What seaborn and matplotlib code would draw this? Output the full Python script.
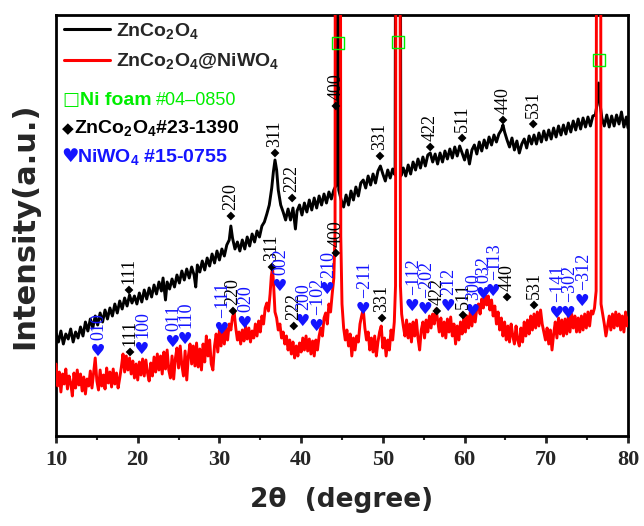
import numpy as np
import pandas as pd
import matplotlib
matplotlib.use("Agg")
import matplotlib.pyplot as plt
import seaborn as sns
from matplotlib.textpath import TextPath
from matplotlib.font_manager import FontProperties
from matplotlib.path import Path
from matplotlib.ticker import MultipleLocator

# ---------------- data (arbitrary intensity units) -------------
# ZnCo2O4 pattern: (2theta, intensity)
zco_points = [
    (10.0, 103), (10.3, 94), (10.6, 105), (10.9, 92), (11.2, 102), (11.5, 97), (11.8, 107),
    (12.1, 94), (12.4, 104), (12.7, 98), (13.0, 109), (13.3, 100), (13.6, 114), (13.9, 105),
    (14.2, 117), (14.5, 108), (14.8, 120), (15.1, 111), (15.4, 123), (15.7, 114), (16.0, 126),
    (16.3, 117), (16.6, 128), (16.9, 120), (17.2, 132), (17.5, 123), (17.8, 135), (18.1, 127),
    (18.4, 138), (18.7, 130), (19.0, 141), (19.3, 133), (19.6, 140), (19.9, 132), (20.2, 143),
    (20.5, 134), (20.8, 146), (21.1, 137), (21.4, 148), (21.7, 139), (22.0, 151), (22.3, 142),
    (22.6, 154), (22.9, 145), (23.1, 158), (23.4, 136), (23.6, 154), (23.9, 147), (24.2, 157),
    (24.5, 149), (24.8, 161), (25.1, 153), (25.4, 165), (25.7, 156), (26.0, 167), (26.3, 158),
    (26.6, 169), (26.9, 161), (27.1, 149), (27.3, 171), (27.6, 164), (27.9, 175), (28.2, 166),
    (28.5, 178), (28.8, 170), (29.1, 182), (29.4, 173), (29.7, 185), (30.0, 176), (30.3, 187),
    (30.6, 180), (30.9, 191), (31.2, 196), (31.4, 210), (31.6, 198), (31.9, 187), (32.2, 194),
    (32.5, 185), (32.8, 196), (33.1, 187), (33.4, 199), (33.7, 190), (34.0, 202), (34.3, 194),
    (34.6, 205), (34.9, 199), (35.2, 210), (35.5, 214), (35.8, 222), (36.1, 231), (36.4, 248),
    (36.6, 264), (36.8, 276), (37.0, 266), (37.2, 246), (37.5, 231), (37.8, 224), (38.1, 216),
    (38.4, 227), (38.7, 216), (39.0, 228), (39.3, 207), (39.5, 225), (39.8, 231), (40.1, 221),
    (40.4, 233), (40.7, 224), (41.0, 236), (41.3, 226), (41.6, 238), (41.9, 228), (42.2, 240),
    (42.5, 231), (42.8, 242), (43.1, 233), (43.4, 244), (43.7, 237), (44.0, 246), (44.3, 251),
    (44.38, 1500), (44.48, 1500), (44.6, 246), (44.9, 236), (45.2, 229), (45.5, 241),
    (45.8, 231), (46.1, 245), (46.4, 236), (46.7, 249), (47.0, 240), (47.3, 253), (47.6, 256),
    (47.9, 248), (48.2, 260), (48.5, 251), (48.8, 262), (49.1, 253), (49.4, 265), (49.7, 270),
    (50.0, 262), (50.3, 255), (50.6, 266), (50.9, 258), (51.2, 267), (51.5, 261),
    (51.75, 1500), (51.95, 1500), (52.2, 260), (52.5, 268), (52.8, 260), (53.1, 271),
    (53.4, 262), (53.7, 274), (54.0, 266), (54.3, 277), (54.6, 268), (54.9, 279), (55.2, 270),
    (55.5, 281), (55.8, 283), (56.1, 274), (56.4, 282), (56.7, 272), (57.0, 283), (57.3, 274),
    (57.6, 285), (57.9, 277), (58.2, 287), (58.5, 278), (58.8, 289), (59.1, 280), (59.4, 290),
    (59.7, 283), (60.0, 276), (60.3, 286), (60.6, 272), (60.9, 286), (61.2, 291), (61.5, 282),
    (61.8, 294), (62.1, 285), (62.4, 296), (62.7, 288), (63.0, 299), (63.3, 291), (63.6, 301),
    (63.9, 294), (64.2, 302), (64.5, 306), (64.7, 311), (64.9, 304), (65.2, 296), (65.5, 289),
    (65.8, 298), (66.1, 286), (66.4, 295), (66.7, 283), (67.0, 292), (67.3, 297), (67.6, 288),
    (67.9, 300), (68.2, 292), (68.5, 301), (68.8, 292), (69.1, 303), (69.4, 294), (69.7, 305),
    (70.0, 296), (70.3, 306), (70.6, 297), (70.9, 308), (71.2, 299), (71.5, 310), (71.8, 301),
    (72.1, 311), (72.4, 302), (72.7, 313), (73.0, 304), (73.3, 315), (73.6, 306), (73.9, 317),
    (74.2, 307), (74.5, 318), (74.8, 309), (75.1, 319), (75.4, 310), (75.7, 320), (76.0, 321),
    (76.2, 331), (76.4, 353), (76.6, 331), (76.8, 318), (77.1, 310), (77.4, 321), (77.7, 309),
    (78.0, 320), (78.3, 310), (78.6, 321), (78.9, 312), (79.2, 324), (79.5, 309), (79.8, 319),
    (80.0, 308),
]

# ZnCo2O4@NiWO4 pattern: (2theta, intensity)
zcn_points = [
    (10.0, 72), (10.2, 50), (10.4, 64), (10.6, 44), (10.8, 62), (11.0, 52), (11.2, 67),
    (11.4, 47), (11.6, 60), (11.8, 53), (12.0, 40), (12.2, 63), (12.4, 48), (12.6, 66),
    (12.8, 51), (13.0, 62), (13.2, 45), (13.4, 59), (13.6, 42), (13.8, 57), (14.0, 50),
    (14.2, 65), (14.4, 48), (14.6, 63), (14.8, 78), (15.0, 55), (15.2, 46), (15.4, 66),
    (15.6, 50), (15.8, 61), (16.0, 47), (16.2, 68), (16.4, 53), (16.6, 64), (16.8, 49),
    (17.0, 67), (17.2, 52), (17.4, 63), (17.6, 48), (17.8, 58), (18.0, 69), (18.2, 82),
    (18.4, 64), (18.6, 80), (18.8, 66), (19.0, 78), (19.2, 62), (19.4, 75), (19.6, 58),
    (19.8, 72), (20.0, 56), (20.2, 74), (20.4, 61), (20.6, 77), (20.8, 60), (21.0, 76),
    (21.2, 63), (21.4, 55), (21.6, 73), (21.8, 60), (22.0, 79), (22.2, 64), (22.4, 82),
    (22.6, 66), (22.8, 80), (23.0, 62), (23.2, 84), (23.4, 67), (23.6, 86), (23.8, 66),
    (24.0, 58), (24.2, 80), (24.4, 57), (24.6, 77), (24.8, 88), (25.0, 68), (25.2, 90),
    (25.4, 71), (25.6, 60), (25.8, 85), (26.0, 56), (26.2, 80), (26.4, 92), (26.6, 72),
    (26.8, 90), (27.0, 70), (27.2, 93), (27.4, 69), (27.6, 87), (27.8, 66), (28.0, 92),
    (28.2, 74), (28.4, 100), (28.6, 80), (28.8, 96), (29.0, 72), (29.2, 66), (29.4, 90),
    (29.6, 102), (29.8, 84), (30.0, 106), (30.2, 90), (30.4, 110), (30.6, 92), (30.8, 108),
    (31.0, 96), (31.2, 112), (31.4, 106), (31.6, 119), (31.8, 124), (32.0, 108), (32.2, 96),
    (32.4, 104), (32.6, 92), (32.8, 106), (33.0, 95), (33.2, 110), (33.4, 97), (33.6, 108),
    (33.8, 94), (34.0, 105), (34.2, 98), (34.4, 112), (34.6, 100), (34.8, 115), (35.0, 104),
    (35.2, 120), (35.4, 112), (35.6, 128), (35.8, 133), (36.0, 125), (36.2, 142),
    (36.35, 160), (36.5, 168), (36.65, 148), (36.8, 124), (37.0, 118), (37.2, 106),
    (37.4, 112), (37.6, 98), (37.8, 104), (38.0, 92), (38.2, 100), (38.4, 86), (38.6, 96),
    (38.8, 82), (39.0, 94), (39.2, 78), (39.4, 90), (39.6, 80), (39.8, 93), (40.0, 84),
    (40.2, 98), (40.4, 86), (40.6, 100), (40.8, 85), (41.0, 97), (41.2, 82), (41.4, 95),
    (41.6, 80), (41.8, 96), (42.0, 86), (42.2, 100), (42.4, 108), (42.6, 100), (42.8, 118),
    (43.0, 123), (43.2, 112), (43.4, 132), (43.6, 124), (43.8, 142), (44.0, 158),
    (44.15, 205), (44.25, 1500), (44.7, 1500), (44.85, 200), (45.0, 132), (45.2, 108),
    (45.4, 96), (45.6, 106), (45.8, 90), (46.0, 102), (46.2, 80), (46.4, 98), (46.6, 86),
    (46.8, 100), (47.0, 94), (47.2, 112), (47.4, 120), (47.6, 127), (47.8, 108), (48.0, 96),
    (48.2, 104), (48.4, 86), (48.6, 98), (48.8, 84), (49.0, 100), (49.2, 80), (49.4, 94),
    (49.6, 104), (49.8, 110), (50.0, 88), (50.2, 98), (50.4, 80), (50.6, 96), (50.8, 86),
    (51.0, 106), (51.2, 96), (51.4, 114), (51.55, 150), (51.7, 1500), (52.0, 1500),
    (52.15, 150), (52.3, 122), (52.5, 110), (52.7, 100), (52.9, 116), (53.1, 98),
    (53.3, 112), (53.5, 94), (53.7, 114), (53.9, 100), (54.1, 116), (54.3, 98), (54.5, 86),
    (54.7, 106), (54.9, 114), (55.1, 98), (55.3, 116), (55.5, 104), (55.7, 120), (55.9, 108),
    (56.1, 122), (56.3, 112), (56.5, 127), (56.7, 116), (56.9, 104), (57.1, 118), (57.3, 100),
    (57.5, 114), (57.7, 98), (57.9, 117), (58.1, 104), (58.3, 119), (58.5, 100), (58.7, 112),
    (58.9, 92), (59.1, 110), (59.3, 96), (59.5, 114), (59.7, 102), (59.9, 118), (60.1, 104),
    (60.3, 120), (60.5, 108), (60.7, 124), (60.9, 110), (61.1, 126), (61.3, 114), (61.5, 128),
    (61.7, 132), (61.9, 122), (62.1, 137), (62.3, 128), (62.5, 141), (62.7, 131), (62.9, 140),
    (63.1, 126), (63.3, 136), (63.5, 120), (63.7, 130), (63.9, 112), (64.1, 124), (64.3, 106),
    (64.5, 118), (64.7, 100), (64.9, 114), (65.1, 96), (65.3, 110), (65.5, 94), (65.7, 112),
    (65.9, 100), (66.1, 92), (66.3, 110), (66.5, 96), (66.7, 90), (66.9, 108), (67.1, 94),
    (67.3, 114), (67.5, 100), (67.7, 116), (67.9, 102), (68.1, 120), (68.3, 106), (68.5, 122),
    (68.7, 108), (68.9, 124), (69.1, 110), (69.3, 126), (69.5, 112), (69.7, 104), (69.9, 96),
    (70.1, 108), (70.3, 92), (70.5, 106), (70.7, 86), (70.9, 102), (71.1, 114), (71.3, 98),
    (71.5, 118), (71.7, 102), (71.9, 116), (72.1, 100), (72.3, 117), (72.5, 102), (72.7, 120),
    (72.9, 104), (73.1, 122), (73.3, 108), (73.5, 120), (73.7, 104), (73.9, 118), (74.1, 104),
    (74.3, 120), (74.5, 106), (74.7, 122), (74.9, 108), (75.1, 124), (75.3, 110), (75.5, 125),
    (75.7, 122), (75.9, 128), (76.1, 145), (76.25, 1500), (76.55, 1500), (76.7, 132),
    (76.9, 122), (77.1, 112), (77.3, 100), (77.5, 110), (77.7, 120), (77.9, 106), (78.1, 122),
    (78.3, 108), (78.5, 124), (78.7, 110), (78.9, 122), (79.1, 106), (79.3, 120), (79.5, 104),
    (79.7, 124), (79.9, 110), (80.0, 118),
]

# ZnCo2O4 reference reflections (#23-1390)
zco_hkl = ["111", "220", "311", "222", "400", "331", "422", "511", "440", "531"]
zco_on_black_x = [18.93, 31.4, 36.8, 38.9, 44.25, 49.65, 55.8, 59.7, 64.7, 68.4]
zco_on_black_y = [146, 220, 283, 238, 330, 280, 289, 298, 316, 312]
zco_on_red_x = [19.06, 31.66, 36.43, 39.1, 44.25, 49.9, 56.6, 59.8, 65.2, 68.5]
zco_on_red_y = [84, 125, 169, 110, 183, 118, 125, 121, 139, 131]

# NiWO4 reflections (#15-0755)
nwo_hkl = ["010", "100", "011", "110", "\u2212111", "020", "002", "200", "\u2212102", "210",
           "\u2212211", "\u2212112", "\u2212202", "212", "300", "032", "\u2212113",
           "\u2212141", "\u2212302", "\u2212312"]
nwo_x = [15.14, 20.5, 24.3, 25.8, 30.3, 33.1, 37.4, 40.2, 41.9, 43.2,
         47.6, 53.6, 55.2, 58.0, 61.0, 62.3, 63.5, 71.3, 72.7, 74.4]
nwo_y = [86, 88, 95, 98, 108, 114, 151, 116, 111, 148,
         128, 131, 128, 131, 126, 143, 146, 124, 124, 136]

# Ni foam reflections (#04-0850)
ni_x = [44.5, 51.85, 76.45]
ni_y = [393, 394, 376]

series_labels = ["ZnCo$_2$O$_4$", "ZnCo$_2$O$_4$@NiWO$_4$"]
x_ticks = [10, 20, 30, 40, 50, 60, 70, 80]

# ---------------- style ---------------
sns.set_style("ticks")
plt.rcParams["font.family"] = ["Liberation Sans", "DejaVu Sans"]
plt.rcParams["mathtext.fontset"] = "custom"
plt.rcParams["mathtext.rm"] = "Liberation Sans:bold"
plt.rcParams["mathtext.it"] = "Liberation Sans:italic:bold"
plt.rcParams["mathtext.bf"] = "Liberation Sans:bold"

BLACK = "#000000"
RED = "#ff0000"
BLUE = "#1414ff"
GREEN = "#00ee00"

fig = plt.figure(figsize=(6.44, 5.26), dpi=100)
ax = fig.add_axes([56 / 644, 90 / 526, 572 / 644, 421 / 526])

zco_x, zco_y = map(list, zip(*zco_points))
zcn_x, zcn_y = map(list, zip(*zcn_points))
df_zco = pd.DataFrame({"two_theta": zco_x, "intensity": zco_y})
df_zcn = pd.DataFrame({"two_theta": zcn_x, "intensity": zcn_y})

sns.lineplot(data=df_zco, x="two_theta", y="intensity", sort=False, estimator=None,
             color=BLACK, lw=2.1, label=series_labels[0], ax=ax, zorder=2)
sns.lineplot(data=df_zcn, x="two_theta", y="intensity", sort=False, estimator=None,
             color=RED, lw=2.1, label=series_labels[1], ax=ax, zorder=3)

# diamond markers
sns.scatterplot(x=zco_on_black_x, y=zco_on_black_y, marker="D", s=20, color=BLACK,
                edgecolor="none", ax=ax, legend=False, zorder=5)
sns.scatterplot(x=zco_on_red_x, y=zco_on_red_y, marker="D", s=20, color=BLACK,
                edgecolor="none", ax=ax, legend=False, zorder=5)

# heart markers
tp = TextPath((0, 0), "\u2665", size=1, prop=FontProperties(family="DejaVu Sans"))
verts = tp.vertices.copy()
codes = tp.codes
real = codes != Path.CLOSEPOLY
ctr = (verts[real].max(axis=0) + verts[real].min(axis=0)) / 2
heart = Path(verts - ctr, codes)
sns.scatterplot(x=nwo_x, y=nwo_y, marker=heart, s=115, color=BLUE, edgecolor="none",
                ax=ax, legend=False, zorder=5)

# Ni foam squares
sns.scatterplot(x=ni_x, y=ni_y, marker="s", s=70, facecolor="none", edgecolor=GREEN,
                linewidth=1.0, ax=ax, legend=False, zorder=6)

serif = "Liberation Serif"
for lbl, x, y in zip(zco_hkl, zco_on_black_x, zco_on_black_y):
    ax.annotate(lbl, (x, y), xytext=(0, 6), textcoords="offset pixels", rotation=90,
                ha="center", va="bottom", fontsize=13, family=serif, color=BLACK, zorder=6)
for lbl, x, y in zip(zco_hkl, zco_on_red_x, zco_on_red_y):
    ax.annotate(lbl, (x, y), xytext=(0, 6), textcoords="offset pixels", rotation=90,
                ha="center", va="bottom", fontsize=13, family=serif, color=BLACK, zorder=6)
for lbl, x, y in zip(nwo_hkl, nwo_x, nwo_y):
    ax.annotate(lbl, (x, y), xytext=(1, 10), textcoords="offset pixels", rotation=90,
                ha="center", va="bottom", fontsize=13, family=serif, color=BLUE, zorder=6)

# axes
ax.set_xlim(10, 80)
ax.set_ylim(0, 421)
ax.set_xticks(x_ticks)
ax.xaxis.set_minor_locator(MultipleLocator(5))
ax.set_yticks([])
ax.tick_params(axis="x", which="major", direction="out", length=5, width=2, pad=5)
ax.tick_params(axis="x", which="minor", direction="out", length=3, width=1.5)
for lab in ax.get_xticklabels():
    lab.set_fontfamily(serif)
    lab.set_fontweight("bold")
    lab.set_fontsize(16)
for sp in ax.spines.values():
    sp.set_visible(True)
    sp.set_linewidth(2)
    sp.set_color("black")

ax.set_xlabel("2\u03b8  (degree)", fontsize=19, fontweight="bold", family="DejaVu Sans",
              labelpad=12)
ax.set_ylabel("Intensity(a.u.)", fontsize=22, fontweight="bold", family="DejaVu Sans",
              labelpad=12)

leg = ax.legend(loc="upper left", bbox_to_anchor=(0, 1.005), borderaxespad=0, frameon=False,
                prop=FontProperties(family="Liberation Sans", weight="bold", size=14),
                handlelength=2.4, handletextpad=0.3, labelspacing=0.55)
for line in leg.get_lines():
    line.set_linewidth(2.2)

def axy(px):
    return (436 - px) / 421

def axx(px):
    return (px - 56) / 572

ax.text(axx(62), axy(105), "\u25a1", transform=ax.transAxes, color=GREEN, fontsize=13,
        family="DejaVu Sans", va="baseline", ha="left")
ax.text(axx(80), axy(105), "Ni foam", transform=ax.transAxes, color=GREEN, fontsize=14,
        fontweight="bold", va="baseline", ha="left")
ax.text(axx(156), axy(105), "#04\u20130850", transform=ax.transAxes, color=GREEN,
        fontsize=13, va="baseline", ha="left")
ax.text(axx(62), axy(133), "\u25c6", transform=ax.transAxes, color=BLACK, fontsize=11,
        family="DejaVu Sans", va="baseline", ha="left")
ax.text(axx(74), axy(133), "ZnCo$_2$O$_4$#23-1390", transform=ax.transAxes,
        color=BLACK, fontsize=14, fontweight="bold", va="baseline", ha="left")
ax.text(axx(61), axy(162), "\u2665", transform=ax.transAxes, color=BLUE, fontsize=14,
        family="DejaVu Sans", va="baseline", ha="left")
ax.text(axx(77), axy(162), "NiWO$_4$ #15-0755", transform=ax.transAxes,
        color=BLUE, fontsize=14, fontweight="bold", va="baseline", ha="left")

fig.savefig("out.png", dpi=100)
